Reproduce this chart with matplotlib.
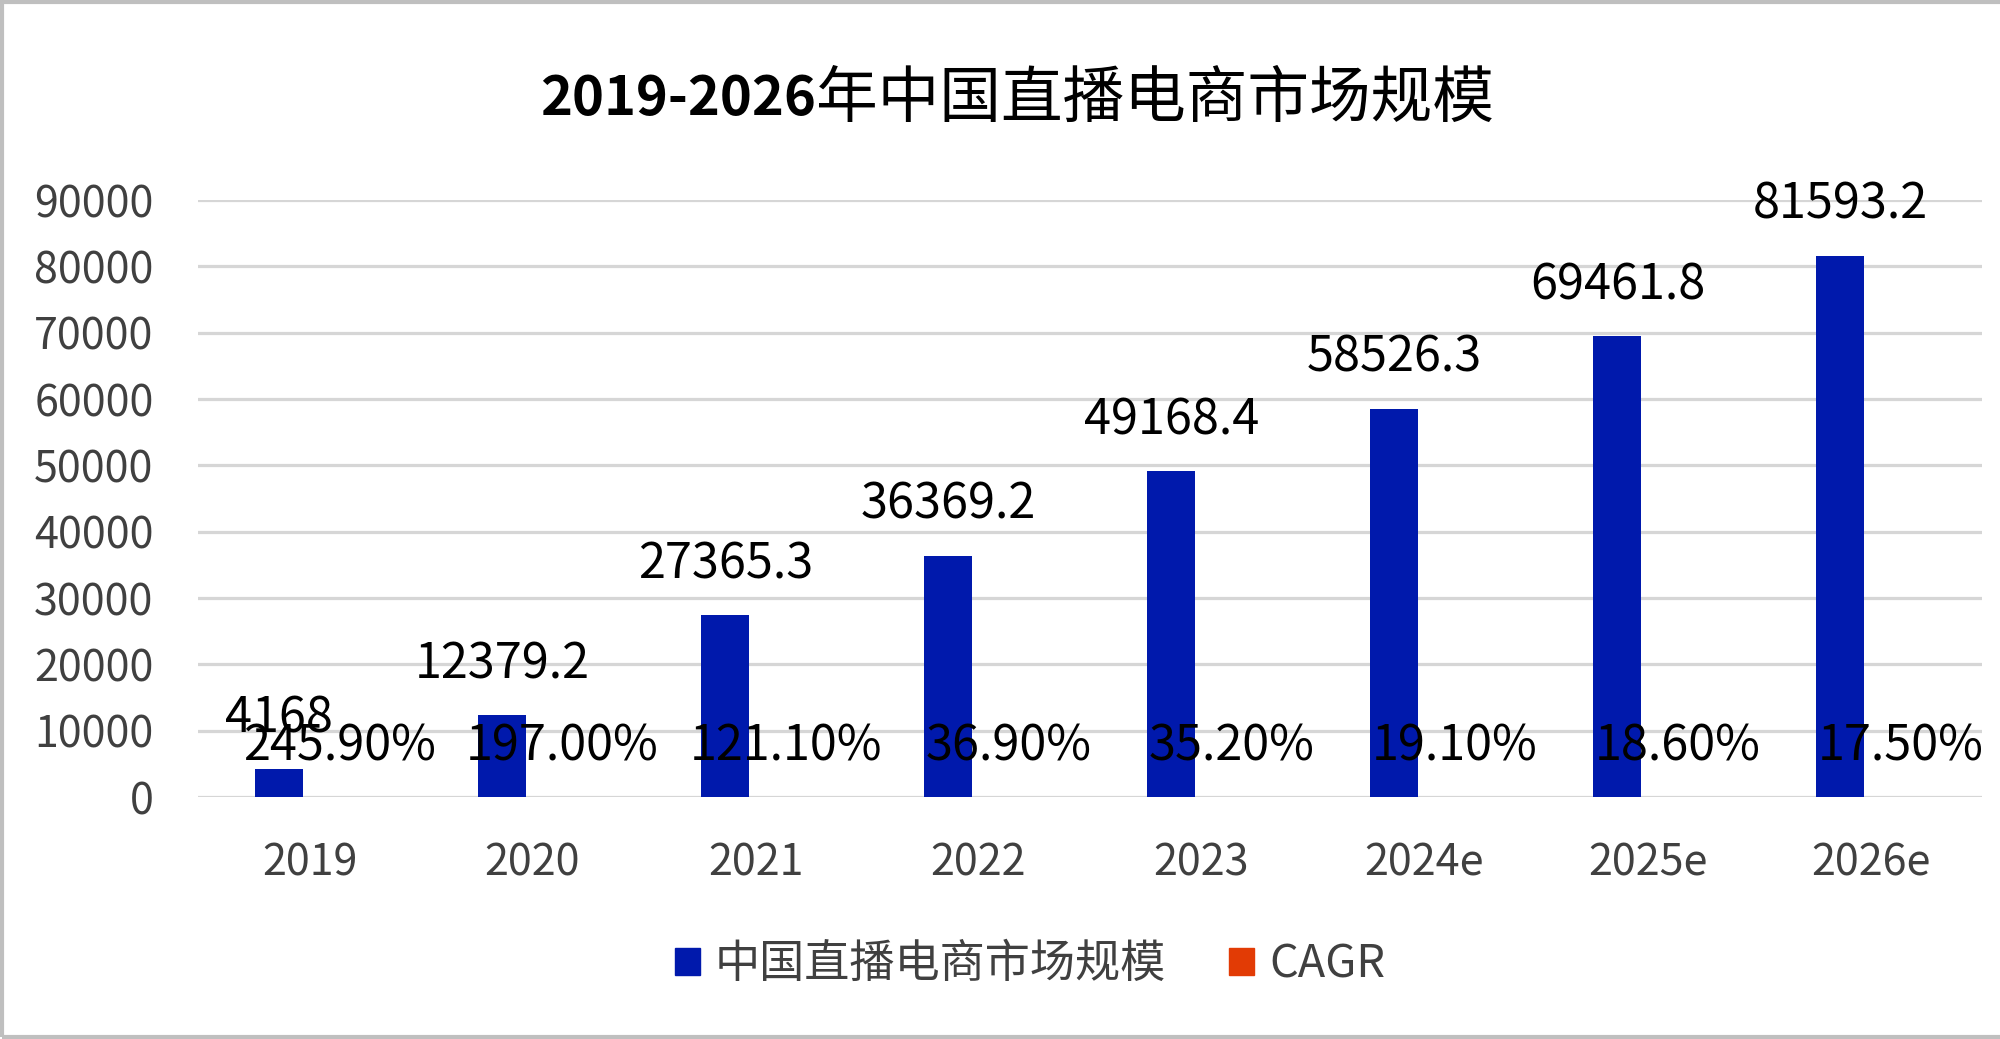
import numpy as np
import matplotlib.pyplot as plt
from matplotlib.patches import Patch, Rectangle

plt.rcParams['font.family'] = ['Noto Sans CJK SC', 'DejaVu Sans']

# 数据
years = ['2019', '2020', '2021', '2022', '2023', '2024e', '2025e', '2026e']
market = [4168, 12379.2, 27365.3, 36369.2, 49168.4, 58526.3, 69461.8, 81593.2]
cagr = [245.9, 197.0, 121.1, 36.9, 35.2, 19.1, 18.6, 17.5]  # %

blue = '#0019AC'
red = '#E23B05'

fig = plt.figure(figsize=(20, 10.39), dpi=100)
ax = fig.add_axes([0.099, 0.2329, 0.892, 0.5746])

x = np.arange(len(years))
w = 0.215
off = 0.135
b1 = ax.bar(x - off, market, w, color=blue, label='中国直播电商市场规模', zorder=3)
b2 = ax.bar(x + off, np.array(cagr) / 100, w, color=red, label='CAGR', zorder=3)

# 数据标签
for xi, v in zip(x - off, market):
    ax.annotate(f'{v:g}', (xi, v), xytext=(0, 26.5), textcoords='offset points',
                ha='center', va='baseline', fontsize=35, color='black', zorder=4)
for xi, v in zip(x + off, cagr):
    ax.annotate(f'{v:.2f}%', (xi, v / 100), xytext=(0, 26.5), textcoords='offset points',
                ha='center', va='baseline', fontsize=35, color='black', zorder=4)

ax.set_xlim(-0.5, len(years) - 0.5)
ax.set_ylim(0, 90000)
ax.set_yticks(np.arange(0, 90001, 10000))
ax.set_xticks(x)
ax.set_xticklabels(years)
ax.tick_params(axis='both', length=0, labelsize=31, labelcolor='#404040')
ax.tick_params(axis='y', pad=32)
ax.tick_params(axis='x', pad=32)
ax.yaxis.grid(True, color='#D6D6D6', linewidth=2.3, zorder=0)
ax.set_axisbelow(True)
for s in ax.spines.values():
    s.set_visible(False)

# 标题
fig.text(0.408, 0.904, '2019-2026', ha='right', va='center',
         fontsize=39, fontweight='bold', color='black')
fig.text(0.408, 0.904, '年中国直播电商市场规模', ha='left', va='center',
         fontsize=44.4, fontweight='normal', color='black')

handles = [Patch(color=blue), Patch(color=red)]
fig.legend(handles, ['中国直播电商市场规模', 'CAGR'], loc='center', bbox_to_anchor=(0.515, 0.072),
           ncol=2, frameon=False, fontsize=32.5, labelcolor='#404040',
           handlelength=0.55, handleheight=0.55, handletextpad=0.33, columnspacing=1.4)

# 外框
fig.patches.append(Rectangle((0.0008, 0.002), 1.1, 0.996, transform=fig.transFigure,
                             fill=False, edgecolor='#BFBFBF', linewidth=3))

fig.savefig('out.png', dpi=100)
